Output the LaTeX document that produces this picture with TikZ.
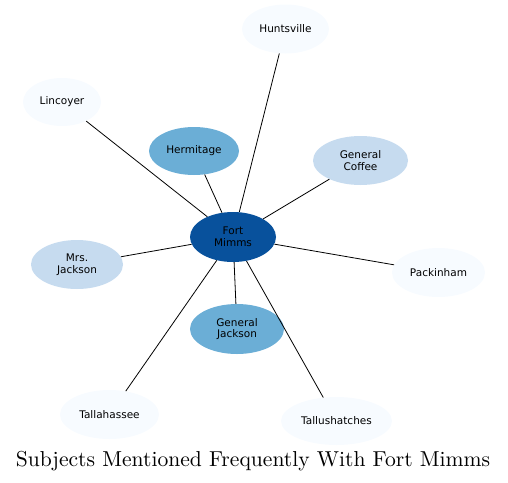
\documentclass[tikz,border=0pt]{standalone}
\usepackage{fontspec}
\setsansfont{DejaVu Sans}
\newfontfamily\titlefont{lmroman10-regular}[Extension=.otf]
\usetikzlibrary{shapes.geometric}
\definecolor{bA}{HTML}{08519C}
\definecolor{bB}{HTML}{6BAED6}
\definecolor{bC}{HTML}{C6DBEF}
\definecolor{bD}{HTML}{F7FBFF}
\begin{document}
\begin{tikzpicture}[x=1pt,y=-1pt,
  ent/.style={ellipse,inner sep=0pt,align=center,text=black,
    font=\sffamily\fontsize{10.5}{11.8}\selectfont},
  link/.style={draw=black,line width=0.8pt}]
\useasboundingbox (0,0) rectangle (508,482);
\node[ent,fill=bD,minimum width=87pt,minimum height=49pt] (hunt) at (285.5,29) {Huntsville};
\node[ent,fill=bD,minimum width=78pt,minimum height=48pt] (linc) at (62,102) {Lincoyer};
\node[ent,fill=bB,minimum width=90pt,minimum height=48pt] (herm) at (194,151) {Hermitage};
\node[ent,fill=bC,minimum width=95pt,minimum height=49pt] (gcof) at (360.5,160.5) {General\\Coffee};
\node[ent,fill=bA,minimum width=86pt,minimum height=50pt] (fm) at (233,237) {Fort\\Mimms};
\node[ent,fill=bC,minimum width=92pt,minimum height=49pt] (mrsj) at (77,264.5) {Mrs.\\Jackson};
\node[ent,fill=bD,minimum width=93pt,minimum height=49pt] (pack) at (438.5,272.5) {Packinham};
\node[ent,fill=bB,minimum width=94pt,minimum height=50pt] (gjack) at (237,329) {General\\Jackson};
\node[ent,fill=bD,minimum width=99pt,minimum height=49pt] (tall) at (109.5,414.5) {Tallahassee};
\node[ent,fill=bD,minimum width=111pt,minimum height=48pt] (tush) at (336.5,421) {Tallushatches};
\foreach \n in {hunt,linc,herm,gcof,mrsj,pack,gjack,tall,tush}
  \draw[link] (fm) -- (\n);
\node[font=\titlefont\fontsize{21.6}{26}\selectfont,anchor=base,inner sep=0pt] (title) at (253,466) {Subjects Mentioned Frequently With Fort Mimms};
\end{tikzpicture}
\end{document}
